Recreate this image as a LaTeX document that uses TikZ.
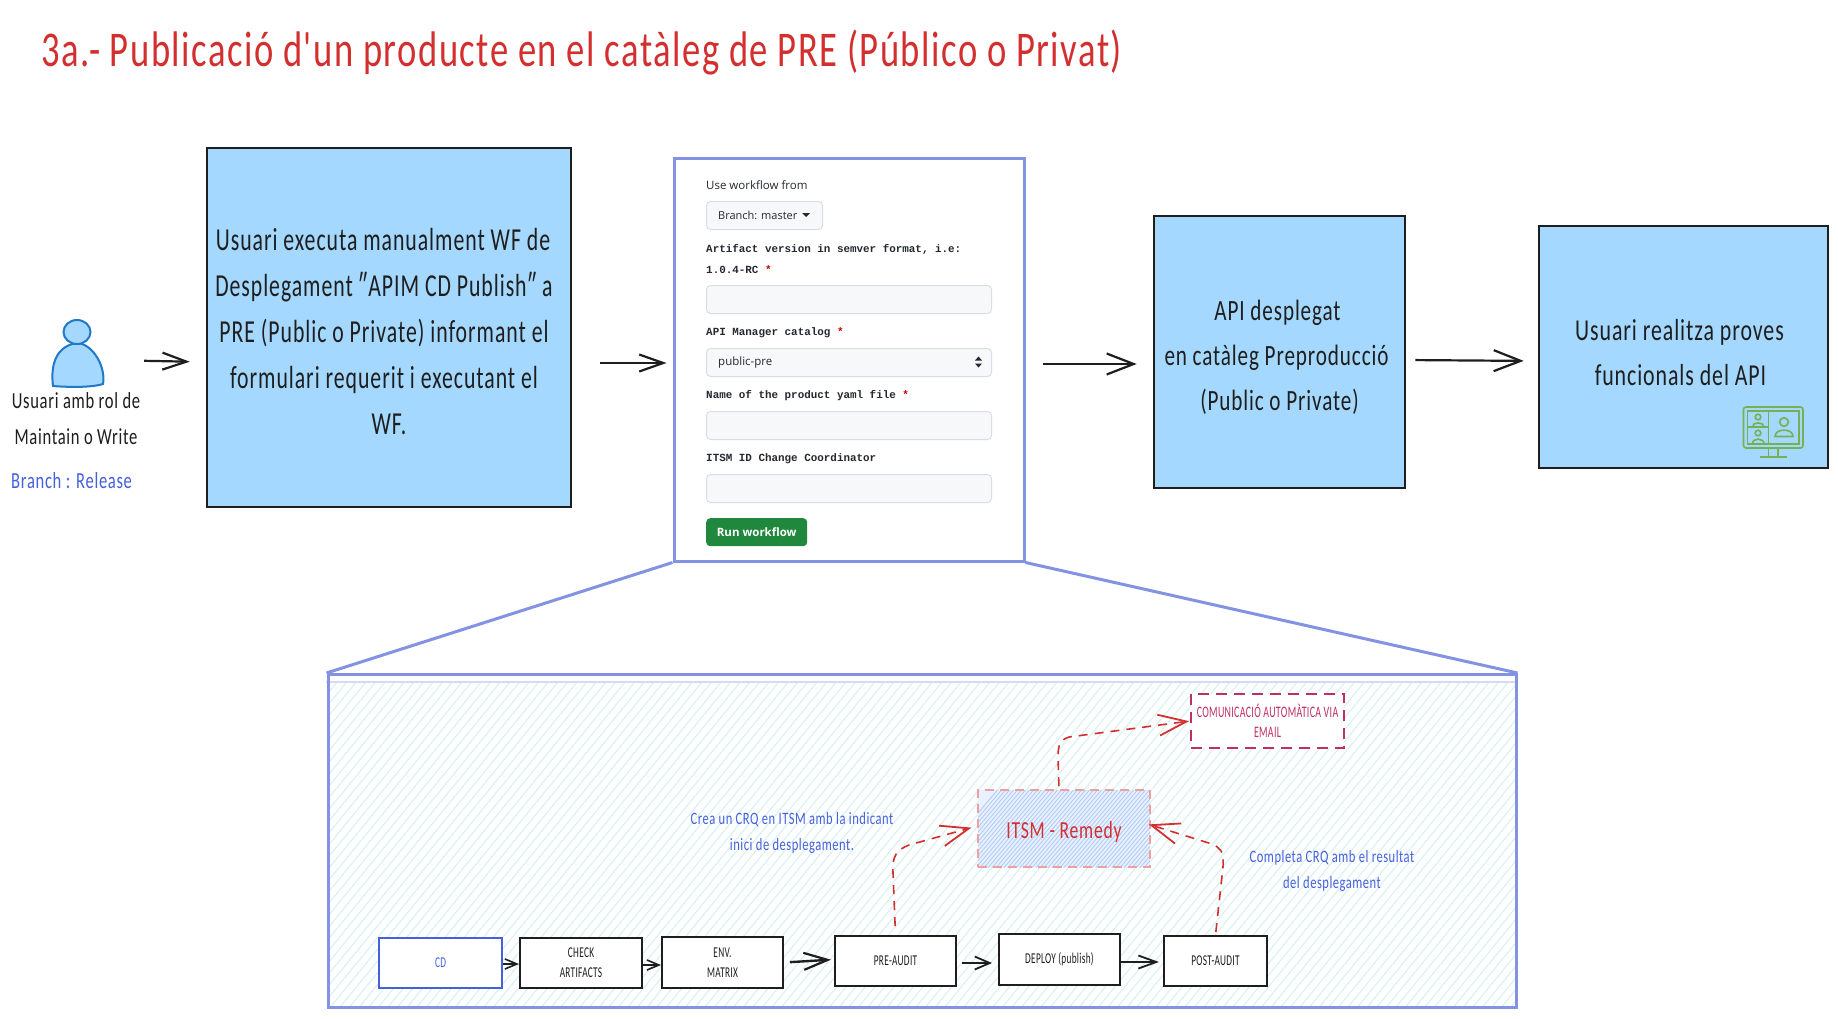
\documentclass[tikz,border=0pt]{standalone}
\usepackage{fontspec}
\usetikzlibrary{arrows.meta,calc}
\setmainfont{Carlito}
\newfontfamily\hwt[FakeStretch=0.732,LetterSpace=3]{Carlito}
\newfontfamily\hw[FakeStretch=0.72,LetterSpace=3]{Carlito}
\newfontfamily\hwb[FakeStretch=0.68,LetterSpace=3]{Carlito}
\newfontfamily\hwn[FakeStretch=0.62,LetterSpace=2]{Carlito}
\newfontfamily\ui{Open Sans}
\newfontfamily\uim{Liberation Mono}
\definecolor{ink}{HTML}{1E1E1E}
\definecolor{bluefill}{HTML}{A5D8FF}
\definecolor{frameblue}{HTML}{8492E4}
\definecolor{textblue}{HTML}{4560DC}
\definecolor{redline}{HTML}{D32F2F}
\definecolor{rosecol}{HTML}{BE2F62}
\definecolor{hatchcol}{HTML}{D3F0F4}
\definecolor{itsmhatch}{HTML}{B4CDF8}
\definecolor{itsmfill}{HTML}{E9F0FF}
\definecolor{fieldfill}{HTML}{F6F8FA}
\definecolor{fieldline}{HTML}{D8DEE4}
\definecolor{uitext}{HTML}{24292F}
\definecolor{green1}{HTML}{1F883D}
\definecolor{icongreen}{HTML}{75B152}
\definecolor{persona}{HTML}{1F78C8}
\newcommand{\lineshift}[1]{\hspace{#1}\mbox{}}
\tikzset{
  bluebox/.style={draw=ink,fill=bluefill,line width=2.6pt,align=center,inner sep=0pt,text=ink},
  stepbox/.style={draw=ink,fill=white,line width=2pt,align=center,inner sep=0pt,text=ink,font=\hwn\fontsize{15pt}{20pt}\selectfont},
  mainarrow/.style={draw=ink,line width=2.2pt,-{Straight Barb[length=24pt,width=17pt,line width=2.2pt]}},
  bigarrow/.style={draw=ink,line width=2.2pt,-{Straight Barb[length=27pt,width=21pt,line width=2.2pt]}},
  smallarrow/.style={draw=ink,line width=2pt,-{Straight Barb[length=12pt,width=10pt,line width=1.6pt]}},
  redarrow/.style={draw=redline,line width=1.6pt,dash pattern=on 9pt off 7pt,-{Straight Barb[length=28pt,width=21pt,line width=1.8pt]},rounded corners=0pt},
  field/.style={draw=fieldline,fill=fieldfill,line width=1pt,rounded corners=4pt,anchor=north west,inner sep=0pt,minimum width=285pt,minimum height=28pt},
  uilabel/.style={anchor=west,inner sep=0pt,text=uitext,font=\uim\bfseries\fontsize{10.9pt}{13pt}\selectfont},
  notetext/.style={text=textblue,align=center,inner sep=0pt,font=\hw\fontsize{17.4pt}{26pt}\selectfont},
  frameline/.style={draw=frameblue,line width=3pt}
}
\begin{document}
\begin{tikzpicture}[x=1pt,y=-1pt]
\useasboundingbox (0,0) rectangle (1838,1018);
\fill[white] (0,0) rectangle (1838,1018);

% title
\node[anchor=west,inner sep=0pt,text=redline,font=\hwt\fontsize{50pt}{56pt}\selectfont] (title) at (41,53)
  {3a.- Publicació d'un producte en el catàleg de PRE (Público o Privat)};

% person
\node[minimum width=52pt,minimum height=68pt,inner sep=0pt] (person) at (78,353) {};
\draw[draw=persona,fill=bluefill,line width=2pt]
  (53,386) .. controls (50,362) and (58,345) .. (78,343) .. controls (94,345) and (106,368) .. (103,384) .. controls (90,388) and (65,387) .. (53,386) -- cycle;
\draw[draw=persona,fill=bluefill,line width=2pt] (77,332) ellipse [x radius=13.5pt,y radius=12pt];
\node[anchor=center,inner sep=0pt,align=center,text=ink,font=\hw\fontsize{23pt}{36pt}\selectfont] (userlbl) at (76,419)
  {Usuari amb rol de\\Maintain o Write};
\node[anchor=west,inner sep=0pt,text=textblue,font=\hw\fontsize{23pt}{26pt}\selectfont] (branch) at (11,481) {Branch : Release};

% main blue boxes
\node[bluebox,minimum width=364pt,minimum height=359pt,font=\hwb\fontsize{32pt}{46pt}\selectfont] (b1) at (389,327.5)
  {\rule{0pt}{30pt}Usuari executa manualment WF de\lineshift{12pt}\\Desplegament ″APIM CD Publish″ a\lineshift{10pt}\\PRE (Public o Private) informant el\lineshift{10pt}\\formulari requerit i executant el\lineshift{10pt}\\WF.};
\node[bluebox,minimum width=251pt,minimum height=272pt,font=\hw\fontsize{29.4pt}{45pt}\selectfont] (b3) at (1279.5,352)
  {\rule{0pt}{32pt}API desplegat\lineshift{4pt}\\en catàleg Preproducció\lineshift{6pt}\\(Public o Private)};
\node[bluebox,minimum width=289pt,minimum height=242pt,font=\hw\fontsize{30.4pt}{45pt}\selectfont] (b4) at (1683.5,347)
  {\rule{0pt}{32pt}Usuari realitza proves\lineshift{8pt}\\funcionals del API\lineshift{6pt}};

% icon in b4
\begin{scope}[draw=icongreen,line width=1.6pt]
  \draw[rounded corners=2.5pt] (1743.5,407) rectangle (1803,448);
  \draw (1747.5,411) rectangle (1799,444);
  \draw (1768.5,411) -- (1768.5,444);
  \draw (1747.5,427) -- (1768.5,427);
  \draw (1768.5,448) -- (1768.5,457);
  \draw (1778,448) -- (1778,457);
  \draw (1760,457) -- (1787,457);
  \draw (1758,417) circle [radius=2.8pt];
  \draw (1752.5,427) .. controls (1752,421.5) and (1764,421.5) .. (1764,427);
  \draw (1758,433) circle [radius=2.8pt];
  \draw (1752.5,444) .. controls (1752,437.5) and (1764,437.5) .. (1764,444);
  \draw (1784,422) circle [radius=4.3pt];
  \draw (1775,436.5) .. controls (1775,428) and (1793,428) .. (1793,436.5) -- cycle;
\end{scope}

% form
\node[draw=frameblue,fill=white,line width=3pt,minimum width=350pt,minimum height=403pt,inner sep=0pt] (form) at (849,359.5) {};
\node[anchor=west,inner sep=0pt,text=uitext,font=\ui\fontsize{11.5pt}{14pt}\selectfont] (lbl0) at (706,185) {Use workflow from};
\node[field,minimum width=116pt] (branchbtn) at (706,201) {};
\node[anchor=west,inner sep=0pt,text=uitext,font=\ui\fontsize{11pt}{14pt}\selectfont] (branchtxt) at (718,215.5) {Branch: master};
\fill[uitext] (802,213) -- (810,213) -- (806,217) -- cycle;
\node[uilabel] (lbl1) at (706,249) {Artifact version in semver format, i.e:};
\node[uilabel] (lbl1b) at (706,270) {1.0.4-RC \textcolor{red!80!black}{*}};
\node[field] (f1) at (706,285) {};
\node[uilabel] (lbl2) at (706,333) {API Manager catalog \textcolor{red!80!black}{*}};
\node[field] (f2) at (706,348) {};
\node[anchor=west,inner sep=0pt,text=uitext,font=\ui\fontsize{11.5pt}{14pt}\selectfont] (seltxt) at (718,362.5) {public-pre};
\fill[uitext] (975,360.5) -- (982,360.5) -- (978.5,356.5) -- cycle;
\fill[uitext] (975,363.5) -- (982,363.5) -- (978.5,367.5) -- cycle;
\node[uilabel] (lbl3) at (706,396) {Name of the product yaml file \textcolor{red!80!black}{*}};
\node[field] (f3) at (706,411) {};
\node[uilabel] (lbl4) at (706,459) {ITSM ID Change Coordinator};
\node[field] (f4) at (706,474) {};
\node[anchor=north west,fill=green1,rounded corners=4pt,inner sep=0pt,minimum width=101pt,minimum height=28pt,text=white,font=\ui\bfseries\fontsize{11.5pt}{14pt}\selectfont] (run) at (706,518) {Run workflow};

% lower frame
\begin{scope}
  \clip (327,682) rectangle (1518,1007);
  \foreach \i in {0,...,156} {
    \draw[hatchcol,line width=1pt] ({40+\i*9.6},1010) -- ({40+\i*9.6+270},680);
  }
\end{scope}
\draw[frameblue!35,line width=2pt] (326,682) -- (1516,682);
\node[draw=frameblue,line width=3pt,minimum width=1188pt,minimum height=333pt,inner sep=0pt] (lower) at (922,841) {};
\draw[frameline] (form.south west) -- (lower.north west);
\draw[frameline] (form.south east) -- (lower.north east);

% steps
\node[stepbox,draw=textblue,text=textblue,minimum width=123pt,minimum height=50pt] (cd) at (440.5,963) {CD};
\node[stepbox,minimum width=122pt,minimum height=50pt] (check) at (581,963) {CHECK\\ARTIFACTS};
\node[stepbox,minimum width=121pt,minimum height=51pt] (env) at (722.5,962.5) {ENV.\\MATRIX};
\node[stepbox,minimum width=121pt,minimum height=50pt] (pre) at (895.5,961) {PRE-AUDIT};
\node[stepbox,minimum width=121pt,minimum height=51pt] (deploy) at (1059.5,959.5) {DEPLOY (publish)};
\node[stepbox,minimum width=103pt,minimum height=50pt] (post) at (1215.5,961) {POST-AUDIT};

\draw[smallarrow] ([yshift=-1pt]cd.east) -- ([yshift=-1pt]check.west);
\draw[smallarrow] ([yshift=-2pt]check.east) -- ([yshift=-2.5pt]env.west);
\draw[mainarrow,line width=2.4pt,shorten <=6pt,shorten >=3pt] (env.east) -- ([yshift=1.5pt]pre.west);
\draw[smallarrow,-{Straight Barb[length=15pt,width=13pt,line width=1.8pt]},shorten <=5pt,shorten >=6pt] ([yshift=-2pt]pre.east) -- ([yshift=-3.5pt]deploy.west);
\draw[smallarrow,-{Straight Barb[length=18pt,width=13pt,line width=1.8pt]},shorten >=4pt] ([yshift=-2.5pt]deploy.east) -- ([yshift=-1pt]post.west);

% itsm and email
\begin{scope}
  \clip (978,790) rectangle (1150,867);
  \fill[itsmfill] (978,790) rectangle (1150,867);
  \foreach \i in {0,...,60} {
    \draw[itsmhatch,line width=.9pt] ({930+\i*4},870) -- ({930+\i*4+70},787);
  }
\end{scope}
\node[draw=redline!45,dash pattern=on 9pt off 6pt,line width=1.6pt,minimum width=172pt,minimum height=77pt,inner sep=0pt,text=redline,font=\hw\fontsize{24.5pt}{30pt}\selectfont] (itsm) at (1064,828.5) {\rule{0pt}{23pt}ITSM - Remedy};
\node[draw=rosecol,fill=white,dash pattern=on 11pt off 7pt,line width=2pt,minimum width=153pt,minimum height=54pt,inner sep=0pt,align=center,text=rosecol,font=\hwn\fontsize{16pt}{20pt}\selectfont] (email) at (1267.5,721) {COMUNICACIÓ AUTOMÀTICA VIA\\EMAIL};

% dashed connectors
\draw[redarrow,shorten <=9pt,shorten >=6pt] (pre.north) -- (893,873) .. controls (892,855) and (897,850) .. (909,845) -- ([yshift=2.5pt]itsm.west);
\draw[redarrow,shorten <=3pt,shorten >=-2pt] (post.north) -- (1223,867) .. controls (1224,850) and (1220,848) .. (1212,844) -- ([yshift=3.5pt]itsm.east);
\draw[redarrow,shorten <=3pt,shorten >=1pt] ([xshift=-5pt]itsm.north) -- (1058,757) .. controls (1058,745) and (1060,740) .. (1069,737) -- (email.west);

% notes
\node[notetext] (note1) at (792,833) {Crea un CRQ en ITSM amb la indicant\\inici de desplegament.};
\node[notetext] (note2) at (1332,871) {Completa CRQ amb el resultat\\del desplegament};

% main connectors
\draw[mainarrow,shorten <=40pt,shorten >=16pt] ([yshift=-7pt]person.east) -- ([yshift=-34.5pt]b1.west);
\draw[mainarrow,shorten <=28pt,shorten >=6pt] ([yshift=-35.5pt]b1.east) -- ([yshift=-3.5pt]form.west);
\draw[bigarrow,shorten <=17pt,shorten >=16pt] ([yshift=-4.5pt]form.east) -- ([yshift=-12pt]b3.west);
\draw[bigarrow,shorten <=9pt,shorten >=14pt] ([yshift=-8pt]b3.east) -- ([yshift=-14pt]b4.west);
\end{tikzpicture}
\end{document}
